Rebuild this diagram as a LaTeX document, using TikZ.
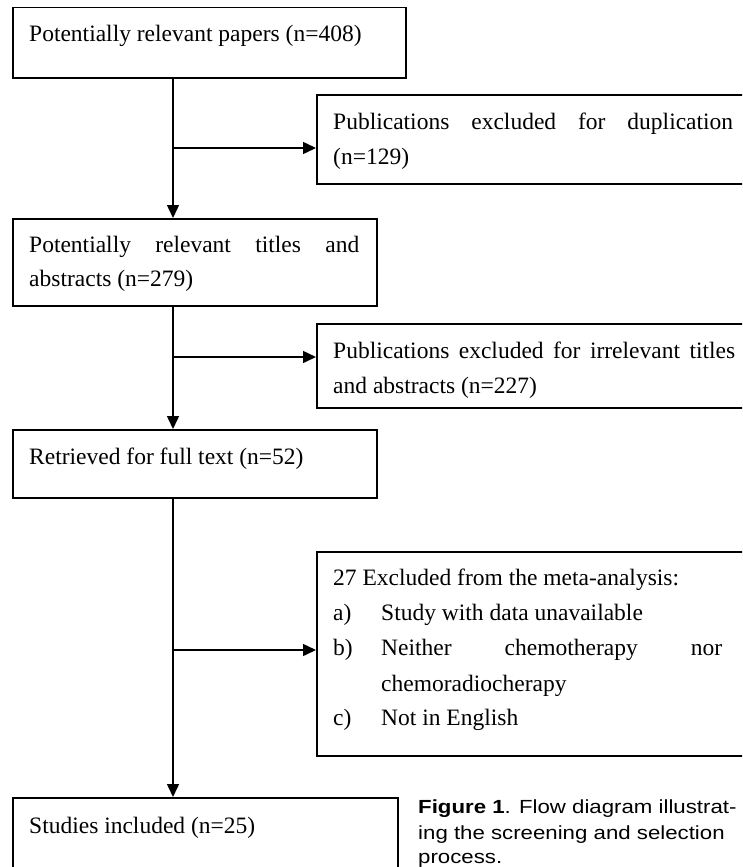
\documentclass[tikz,border=0pt]{standalone}
\usepackage{fontspec}
\setmainfont{Liberation Serif}
\newfontfamily\capfont[FakeStretch=1.17]{Liberation Sans}
\usetikzlibrary{arrows.meta}
\begin{document}
\begin{tikzpicture}[x=1pt,y=-1pt,
  box/.style={draw, line width=1.5pt, rectangle, anchor=north west, inner sep=0pt},
  txt/.style={anchor=base west, inner sep=0pt, font=\fontsize{23.5}{35}\selectfont},
  captxt/.style={anchor=base west, inner sep=0pt, font=\capfont\fontsize{19}{26}\selectfont},
  arr/.style={line width=1.5pt, -{Triangle[length=13pt,width=12pt]}},
  ln/.style={line width=1.5pt}]
\useasboundingbox (0,0) rectangle (742,867);
\clip (0,0) rectangle (742,867);
% boxes
\node[box, minimum width=393pt, minimum height=70pt] (b1) at (12,7) {};
\node[box, minimum width=440pt, minimum height=89pt] (b2) at (316,94) {};
\node[box, minimum width=364pt, minimum height=87pt] (b3) at (12,218) {};
\node[box, minimum width=440pt, minimum height=84pt] (b4) at (316,323) {};
\node[box, minimum width=364pt, minimum height=68pt] (b5) at (12,429) {};
\node[box, minimum width=440pt, minimum height=204pt] (b6) at (316,551) {};
\node[box, minimum width=385pt, minimum height=100pt] (b7) at (12,797) {};
% texts
\node[txt] (t1) at (29,42) {Potentially relevant papers (n=408)};
\node[txt] (t2a) at (333,129) {\hbox to 400pt{Publications\hfill excluded\hfill for\hfill duplication}};
\node[txt] (t2b) at (333,164) {(n=129)};
\node[txt] (t3a) at (29,252) {\hbox to 330pt{Potentially\hfill relevant\hfill titles\hfill and}};
\node[txt] (t3b) at (29,286) {abstracts (n=279)};
\node[txt] (t4a) at (333,358) {\hbox to 402pt{Publications\hfill excluded\hfill for\hfill irrelevant\hfill titles}};
\node[txt] (t4b) at (333,393) {and abstracts (n=227)};
\node[txt] (t5) at (29,464) {Retrieved for full text (n=52)};
\node[txt] (t6) at (333,585) {27 Excluded from the meta-analysis:};
\node[txt] (t6a) at (333,620) {a)};
\node[txt] (t6at) at (381,620) {Study with data unavailable};
\node[txt] (t6b) at (333,655) {b)};
\node[txt] (t6bt) at (381,655) {\hbox to 341pt{Neither\hfill chemotherapy\hfill nor}};
\node[txt] (t6bu) at (381,691) {chemoradiocherapy};
\node[txt] (t6c) at (333,725) {c)};
\node[txt] (t6ct) at (381,725) {Not in English};
\node[txt] (t7) at (29,833) {Studies included (n=25)};
% caption
\node[captxt] (c1) at (418,813) {\textbf{Figure 1}. Flow diagram illustrat-};
\node[captxt] (c2) at (418,839) {ing the screening and selection};
\node[captxt] (c3) at (418,863) {process.};
% connectors
\coordinate (s1) at (173,148);
\coordinate (s2) at (173,357);
\coordinate (s3) at (173,650);
\draw[arr] (b1.south -| s1) -- (b3.north -| s1);
\draw[arr] (s1) -- (b2.west |- s1);
\draw[arr] (b3.south -| s2) -- (b5.north -| s2);
\draw[arr] (s2) -- (b4.west |- s2);
\draw[arr] (b5.south -| s3) -- (b7.north -| s3);
\draw[arr] (s3) -- (b6.west |- s3);
\end{tikzpicture}
\end{document}
